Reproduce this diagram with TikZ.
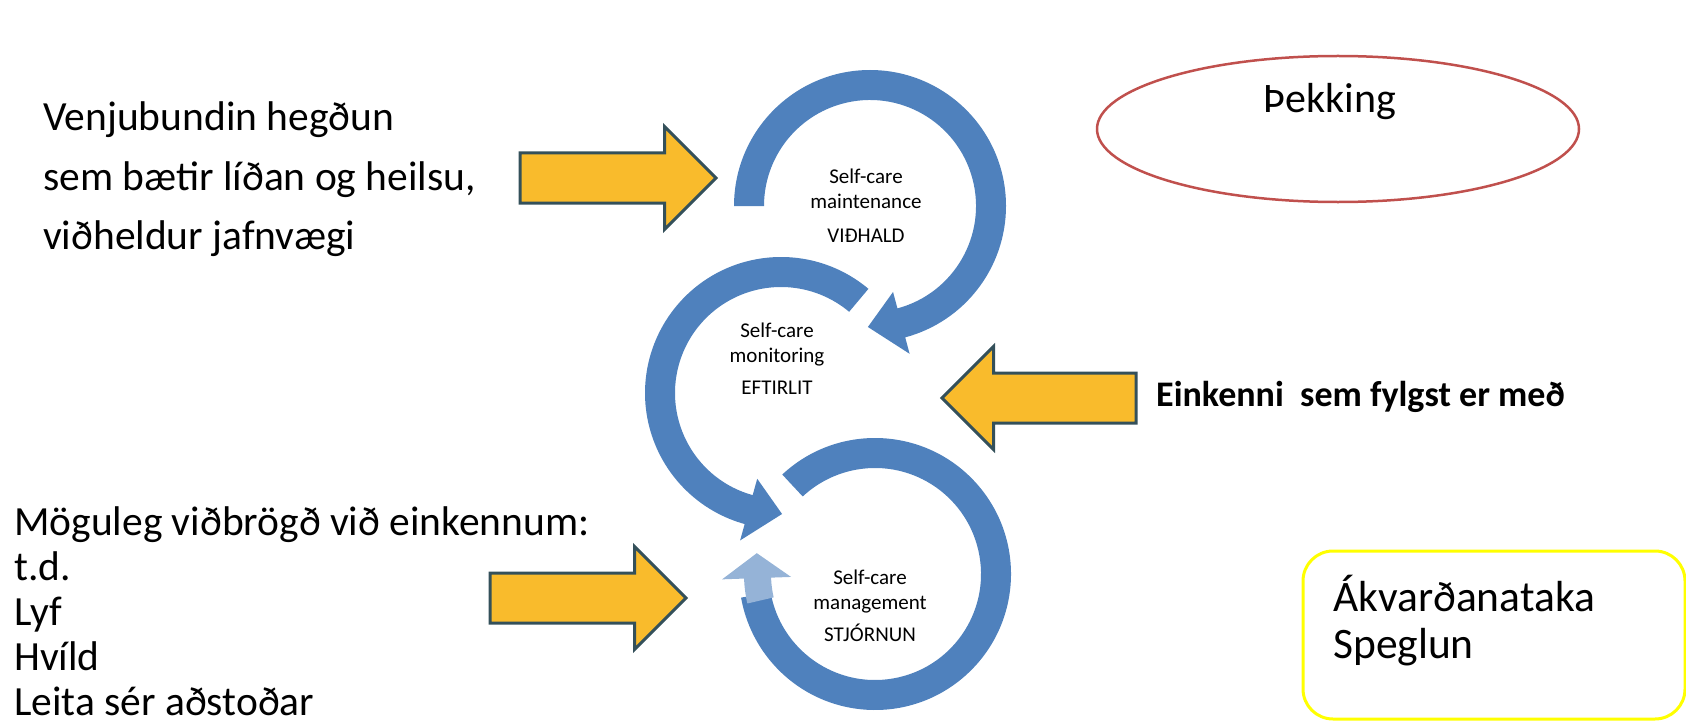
\documentclass[tikz,border=0pt]{standalone}
\usepackage{fontspec}
\setmainfont{Carlito}
\usepackage{tikz}
\usetikzlibrary{calc,shapes.arrows,shapes.geometric}
\definecolor{RING}{HTML}{4F81BD}
\definecolor{RINGLT}{HTML}{95B3D7}
\definecolor{GOLD}{HTML}{F9BB2C}
\definecolor{SLATE}{HTML}{34505A}
\definecolor{KNOW}{HTML}{C0504D}
\definecolor{DECIDE}{HTML}{FFFF00}

\begin{document}
\begin{tikzpicture}[
  x=1bp, y=-1bp,
  ring/.style={fill=RING},
  push/.style={single arrow, draw=SLATE, fill=GOLD, line width=3bp, single arrow head extend=26.5bp, single arrow tip angle=90, inner xsep=0pt, inner ysep=23.5bp, outer sep=0pt, minimum height=196bp, anchor=tip},
  big/.style={font=\fontsize{41.5bp}{59bp}\selectfont, align=left, anchor=base west, inner sep=0pt},
  inring/.style={font=\fontsize{21bp}{25bp}\selectfont, align=center, anchor=base, inner sep=0pt},
]
\useasboundingbox (0,0) rectangle (1686,722);

% ===== the three loops =====
\coordinate (cM) at (870,206);
\coordinate (cE) at (781,393);
\coordinate (cS) at (875,574);
\foreach \c/\a/\b/\t in {cM/180/435/451, cE/310/105.5/89.5} {
  \fill[ring] ($(\c)+(\a:136)$) arc[start angle=\a, end angle=\b, radius=136]
    -- ($(\c)+(\b:153)$) -- ($(\c)+(\t:121)$) -- ($(\c)+(\b:89)$)
    -- ($(\c)+(\b:106)$) arc[start angle=\b, end angle=\a, radius=106] -- cycle;
}
\fill[ring] ($(cS)+(227:136)$) arc[start angle=227, end angle=530, radius=136]
  -- ($(cS)+(530:106)$) arc[start angle=530, end angle=227, radius=106] -- cycle;
\fill[RINGLT] ($(cS)+(527:131)$) arc[start angle=527, end angle=538, radius=131]
  -- ($(cS)+(538:153)$) -- ($(cS)+(550:120)$) -- ($(cS)+(538:84)$)
  -- ($(cS)+(538:104)$) arc[start angle=538, end angle=527, radius=104] -- cycle;

% base anchor = last line
\node[inring] (maint) at (866,242) {Self-care\\maintenance\\[9bp]VIÐHALD};
\node[inring] (monit) at (777,394) {Self-care\\monitoring\\[7bp]EFTIRLIT};
\node[inring] (manag) at (870,641) {Self-care\\management\\[7bp]STJÓRNUN};

% ===== inputs =====
\node[big] (habit) at (43,249) {Venjubundin hegðun\\sem bætir líðan og heilsu,\\viðheldur jafnvægi};
\node[push] (inA) at (716,178) {};

\node[big, font=\fontsize{41.5bp}{45bp}\selectfont] (resp) at (14,715)
  {Möguleg viðbrögð við einkennum:\\t.d.\\Lyf\\Hvíld\\Leita sér aðstoðar};
\node[push] (inC) at (686,598) {};

\node[push, shape border rotate=180, minimum height=194bp] (inB) at (942,398) {};
\node[big, font=\bfseries\fontsize{36bp}{42bp}\selectfont] (symp) at (1156,406) {Einkenni\ \ sem fylgst er með};

% ===== right side =====
\node[ellipse, draw=KNOW, line width=2.5bp, minimum width=482bp, minimum height=146bp, inner sep=0pt] (know) at (1338,129) {};
\node[font=\fontsize{42bp}{47bp}\selectfont, anchor=base, inner sep=0pt] (knowtxt) at (1330,113) {Þekking};

\node[draw=DECIDE, line width=3bp, rounded corners=30bp, minimum width=382bp, minimum height=168bp] (decide) at (1494,635) {};
\node[big, font=\fontsize{43.5bp}{47bp}\selectfont] (decidetxt) at (1333,658) {Ákvarðanataka\\Speglun};

\end{tikzpicture}
\end{document}
